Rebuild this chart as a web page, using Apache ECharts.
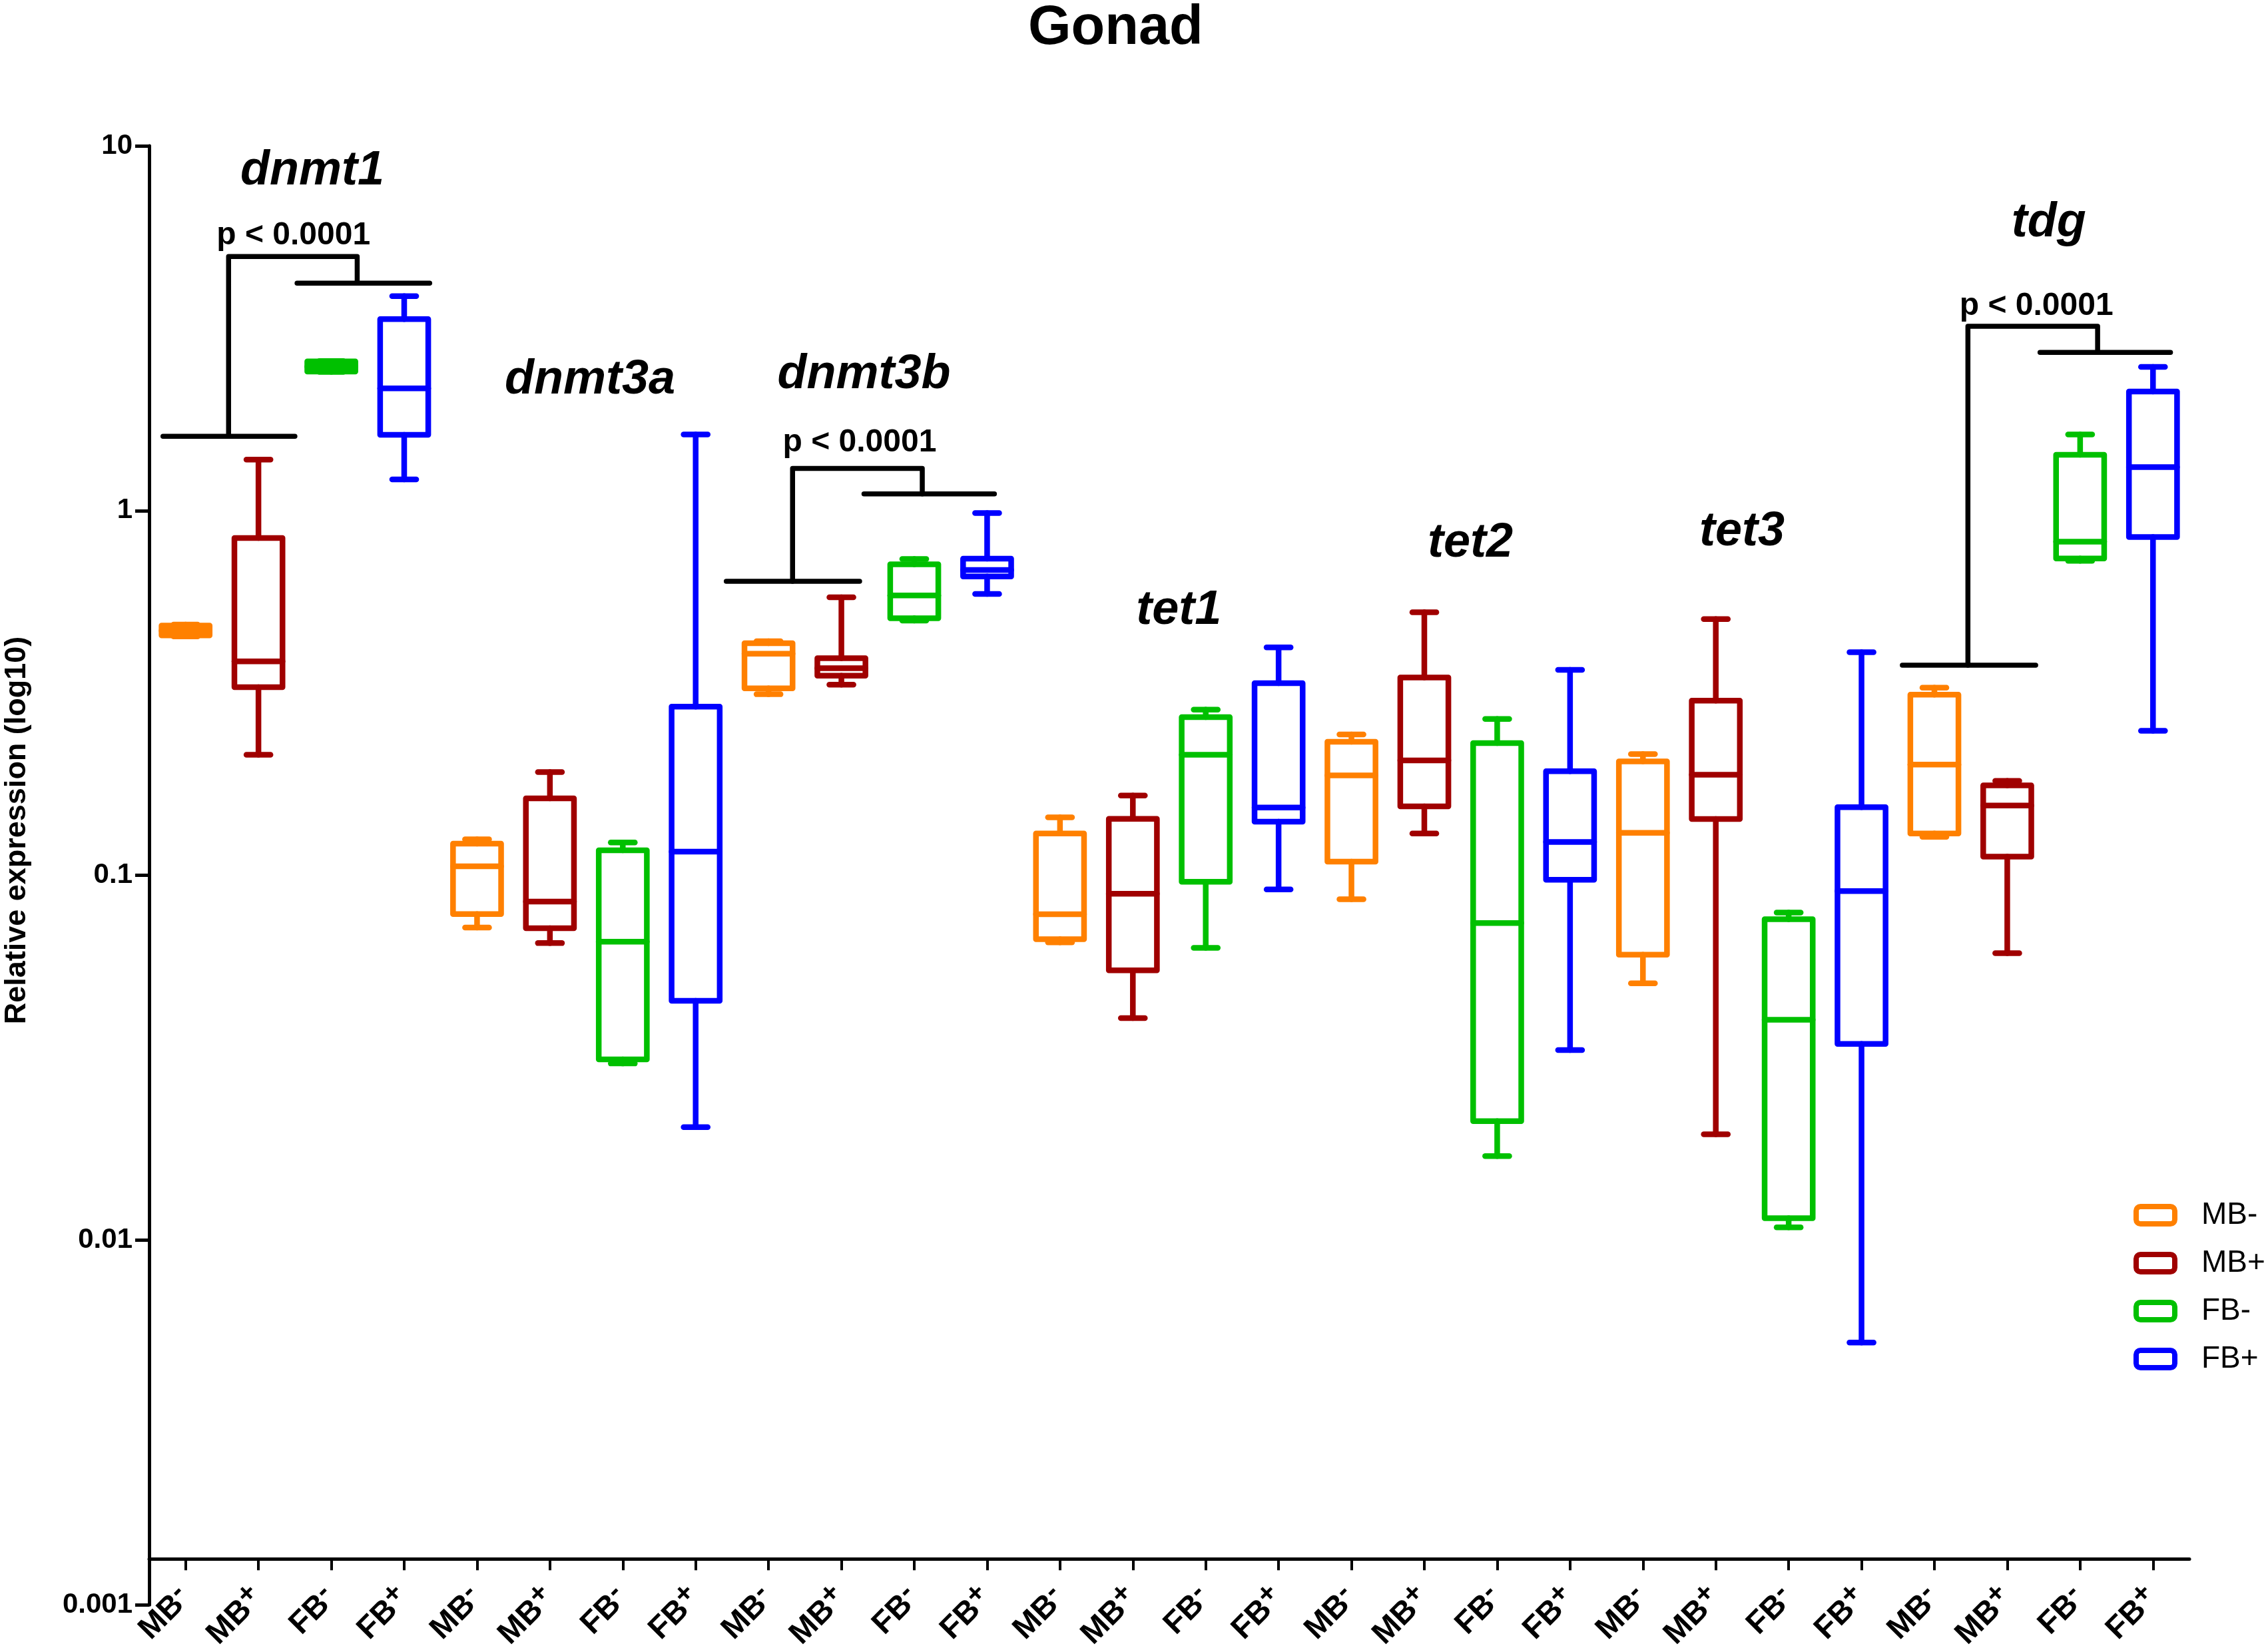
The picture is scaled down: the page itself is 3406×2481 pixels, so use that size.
<!DOCTYPE html>
<html>
<head>
<meta charset="utf-8">
<script src="https://cdn.jsdelivr.net/npm/echarts@6/dist/echarts.min.js"></script>
<style>html,body{margin:0;padding:0;background:#fff}#c{width:3406px;height:2481px}</style>
</head>
<body>
<div id="c"></div>
<script>
// ---------------- data ----------------
const genes = ['dnmt1', 'dnmt3a', 'dnmt3b', 'tet1', 'tet2', 'tet3', 'tdg'];
const groups = ['MB-', 'MB+', 'FB-', 'FB+'];
const categories = genes.flatMap(() => groups);
const yTickValues = [0.001, 0.01, 0.1, 1, 10];
const yTickLabels = ['0.001', '0.01', '0.1', '1', '10'];

// each box: [min, Q1, median, Q3, max], one per gene
const mbMinus = [
  [0.452, 0.455, 0.469, 0.484, 0.487],
  [0.0719, 0.0783, 0.1059, 0.1222, 0.1256],
  [0.3137, 0.3257, 0.405, 0.4327, 0.4386],
  [0.0655, 0.0668, 0.0782, 0.1303, 0.1442],
  [0.0860, 0.1090, 0.1880, 0.2323, 0.2435],
  [0.0506, 0.0606, 0.1308, 0.2052, 0.2151],
  [0.1276, 0.1302, 0.2013, 0.313, 0.327]
];
const mbPlus = [
  [0.214, 0.328, 0.386, 0.841, 1.379],
  [0.0652, 0.0716, 0.0847, 0.1625, 0.1920],
  [0.3334, 0.3528, 0.3696, 0.3937, 0.5787],
  [0.0406, 0.0549, 0.0890, 0.1428, 0.1655],
  [0.1303, 0.1546, 0.2065, 0.3486, 0.5264],
  [0.0195, 0.1427, 0.1887, 0.3013, 0.5039],
  [0.0612, 0.1125, 0.1554, 0.1764, 0.1816]
];
const fbMinus = [
  [2.40, 2.406, 2.48, 2.564, 2.57],
  [0.0305, 0.0313, 0.0658, 0.1171, 0.1231],
  [0.4993, 0.5067, 0.5851, 0.7121, 0.7365],
  [0.0633, 0.0960, 0.2140, 0.2716, 0.2846],
  [0.0170, 0.0212, 0.0740, 0.2304, 0.2683],
  [0.01084, 0.01149, 0.0402, 0.0758, 0.0791],
  [0.728, 0.739, 0.822, 1.423, 1.617]
];
const fbPlus = [
  [1.217, 1.614, 2.164, 3.35, 3.87],
  [0.0204, 0.0453, 0.1162, 0.290, 1.617],
  [0.591, 0.66, 0.687, 0.7385, 0.985],
  [0.0915, 0.1403, 0.1535, 0.3365, 0.4218],
  [0.0332, 0.0973, 0.1235, 0.1929, 0.3660],
  [0.00524, 0.0345, 0.0905, 0.1537, 0.4089],
  [0.249, 0.846, 1.316, 2.12, 2.477]
];
const groupData = [mbMinus, mbPlus, fbMinus, fbPlus];

// significance brackets, in (category-unit x, value y):
// [leftLineStart, leftLineEnd, leftStem, rightStem, rightLineStart, rightLineEnd, leftLineY, topY, rightLineY]
const brackets = [
  [0.19, 2.00, 1.09, 2.855, 2.03, 3.85, 1.598, 4.97, 4.204],
  [7.92, 9.75, 8.83, 10.61, 9.81, 11.60, 0.640, 1.305, 1.111],
  [24.06, 25.89, 24.96, 26.74, 25.95, 27.74, 0.3767, 3.20, 2.713]
];
const pText = 'p < 0.0001';
const pLabelX = [1.98, 9.75, 25.9];
const pLabelY = [5.67, 1.538, 3.64];
const geneLabelX = [2.24, 6.05, 9.81, 14.13, 18.13, 21.86, 26.07];
const geneLabelY = [8.52, 2.275, 2.357, 0.532, 0.813, 0.874, 6.14];

// ---------------- styles ----------------
const FONT = '"Liberation Sans", Arial, Helvetica, sans-serif';
const colors = ['#FF8000', '#A00000', '#00C000', '#0000FF'];
const LW = 8.5;

function boxRenderer(color) {
  return function (params, api) {
    const c = api.value(0);
    const pMin = api.coord([c, api.value(1)]);
    const pQ1 = api.coord([c, api.value(2)]);
    const pMed = api.coord([c, api.value(3)]);
    const pQ3 = api.coord([c, api.value(4)]);
    const pMax = api.coord([c, api.value(5)]);
    const band = api.coord([1, 1])[0] - api.coord([0, 1])[0];
    const bw = band * 0.66, cw = band * 0.33;
    const cx = pMed[0];
    const st = { stroke: color, lineWidth: LW, fill: 'none', lineCap: 'round', lineJoin: 'round' };
    const line = (x1, y1, x2, y2) => ({ type: 'line', shape: { x1, y1, x2, y2 }, style: st });
    return {
      type: 'group',
      children: [
        line(cx, pQ3[1], cx, pMax[1]),
        line(cx, pQ1[1], cx, pMin[1]),
        line(cx - cw / 2, pMax[1], cx + cw / 2, pMax[1]),
        line(cx - cw / 2, pMin[1], cx + cw / 2, pMin[1]),
        { type: 'rect', shape: { x: cx - bw / 2, y: pQ3[1], width: bw, height: pQ1[1] - pQ3[1] }, style: st },
        line(cx - bw / 2, pMed[1], cx + bw / 2, pMed[1])
      ]
    };
  };
}

function bracketRenderer(params, api) {
  const v = i => api.value(i);
  const X = u => api.coord([u, 1])[0];
  const Y = y => api.coord([1, y])[1];
  const yL = Y(v(6)), yT = Y(v(7)), yR = Y(v(8));
  const st = { stroke: '#000', lineWidth: 7.5, fill: 'none', lineCap: 'round', lineJoin: 'round' };
  return {
    type: 'group',
    children: [
      { type: 'line', shape: { x1: X(v(0)), y1: yL, x2: X(v(1)), y2: yL }, style: st },
      { type: 'polyline', shape: { points: [[X(v(2)), yL], [X(v(2)), yT], [X(v(3)), yT], [X(v(3)), yR]] }, style: st },
      { type: 'line', shape: { x1: X(v(4)), y1: yR, x2: X(v(5)), y2: yR }, style: st }
    ]
  };
}

function textRenderer(texts, font) {
  return function (params, api) {
    const p = api.coord([api.value(0), api.value(1)]);
    return {
      type: 'text', x: p[0], y: p[1],
      style: { text: texts[params.dataIndex], font: font, fill: '#000', align: 'center', verticalAlign: 'middle' }
    };
  };
}

const series = groups.map((g, gi) => ({
  type: 'custom',
  name: g,
  xAxisIndex: 0,
  yAxisIndex: 0,
  itemStyle: { color: colors[gi] },
  encode: { x: 0, y: [1, 2, 3, 4, 5] },
  data: groupData[gi].map((b, k) => [k * 4 + gi].concat(b)),
  renderItem: boxRenderer(colors[gi])
}));

series.push({
  type: 'custom', name: 'brackets', xAxisIndex: 1, yAxisIndex: 0,
  encode: { x: [0, 1, 2, 3, 4, 5], y: [6, 7, 8] },
  data: brackets,
  renderItem: bracketRenderer
});
series.push({
  type: 'custom', name: 'pvalues', xAxisIndex: 1, yAxisIndex: 0,
  encode: { x: 0, y: 1 },
  data: pLabelX.map((x, i) => [x, pLabelY[i]]),
  renderItem: textRenderer(pLabelX.map(() => pText), 'bold 48px ' + FONT)
});
series.push({
  type: 'custom', name: 'genes', xAxisIndex: 1, yAxisIndex: 0,
  encode: { x: 0, y: 1 },
  data: geneLabelX.map((x, i) => [x, geneLabelY[i]]),
  renderItem: textRenderer(genes, 'italic bold 72px ' + FONT)
});

const chart = echarts.init(document.getElementById('c'), null, { renderer: 'canvas' });
chart.setOption({
  animation: false,
  backgroundColor: '#fff',
  title: {
    text: 'Gonad', left: 1544, top: 2, padding: 0,
    textStyle: { fontSize: 83, fontWeight: 'bold', fontFamily: FONT, color: '#000' }
  },
  legend: {
    orient: 'vertical', left: 3204, top: 1802, padding: 0,
    itemWidth: 58, itemHeight: 26, itemGap: 26, icon: 'roundRect',
    selectedMode: false,
    textStyle: { fontSize: 46, fontFamily: FONT, color: '#000', padding: [0, 0, 0, 35] },
    data: groups.map((g, i) => ({ name: g, itemStyle: { color: '#fff', borderColor: colors[i], borderWidth: 8 } }))
  },
  grid: { left: 224, right: 118, top: 219, bottom: 66, containLabel: false },
  xAxis: [
    {
      type: 'category', data: categories, offset: -69,
      axisLine: { show: true, lineStyle: { color: '#000', width: 5 } },
      axisTick: { show: true, alignWithLabel: true, length: 17, lineStyle: { color: '#000', width: 4 } },
      axisLabel: {
        interval: 0, rotate: 45, margin: 52, color: '#000',
        formatter: v => '{m|' + v.slice(0, -1) + '}{s|' + v.slice(-1) + '}',
        rich: {
          m: { fontSize: 47, fontWeight: 'bold', fontFamily: FONT, color: '#000' },
          s: { fontSize: 42, fontWeight: 'bold', fontFamily: FONT, color: '#000', padding: [0, 0, 22, 0] }
        }
      },
      splitLine: { show: false }
    },
    { type: 'value', min: 0, max: 28, show: false, splitLine: { show: false } }
  ],
  yAxis: {
    type: 'log', logBase: 10, min: 0.001, max: 10,
    axisLine: { show: true, lineStyle: { color: '#000', width: 5 } },
    axisTick: { show: true, length: 21, lineStyle: { color: '#000', width: 5 } },
    minorTick: { show: false },
    splitLine: { show: false },
    axisLabel: {
      margin: 25, fontSize: 42, fontWeight: 'bold', fontFamily: FONT, color: '#000',
      formatter: v => {
        const i = yTickValues.findIndex(t => Math.abs(Math.log10(t) - Math.log10(v)) < 1e-6);
        return i >= 0 ? yTickLabels[i] : '';
      }
    }
  },
  graphic: [{
    type: 'text', x: 26, y: 1247, rotation: Math.PI / 2,
    style: { text: 'Relative expression (log10)', font: 'bold 45px ' + FONT, fill: '#000', align: 'center', verticalAlign: 'middle' }
  }],
  series: series
});
</script>
</body>
</html>
